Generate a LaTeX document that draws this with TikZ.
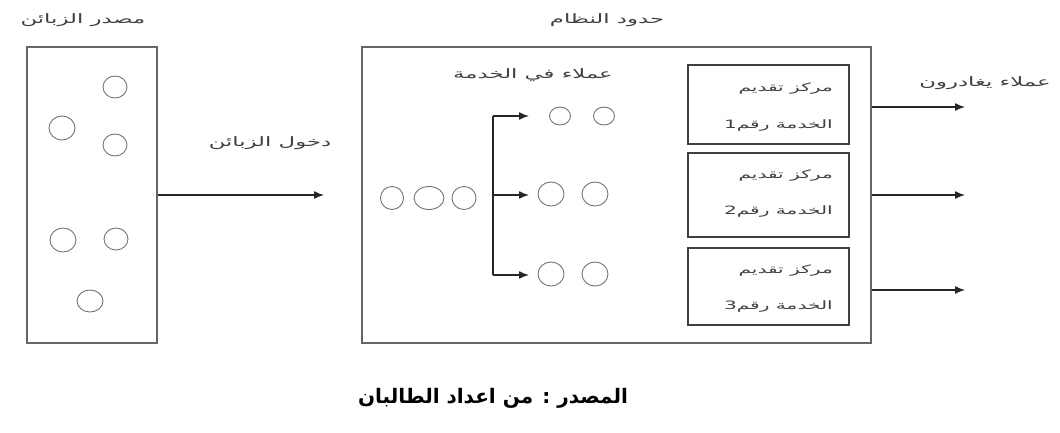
\documentclass[tikz,border=0pt]{standalone}
\usepackage{fontspec}
\TeXXeTstate=1
\newfontfamily\arabicfont[Script=Arabic,FakeStretch=1.75]{DejaVu Sans}
\newfontfamily\arabicbold[Script=Arabic]{DejaVu Sans Bold}
\usetikzlibrary{arrows.meta}
\tikzset{
  frame/.style={draw=black!60, line width=1.6pt, inner sep=0pt},
  station/.style={draw=black!75, line width=1.6pt, inner sep=0pt,
                  minimum width=161pt},
  cust/.style={draw=black!55, line width=0.9pt},
  flow/.style={draw=black!85, line width=1.4pt, -{Latex[length=10pt,width=8pt]}},
  lbl/.style={font=\fontsize{13}{15}\selectfont\arabicfont, text=black!75, inner sep=1pt},
  boxtxt/.style={font=\fontsize{11.5}{13}\selectfont\arabicfont, text=black!75,
                 inner sep=1pt, anchor=east},
}
\begin{document}
\begin{tikzpicture}[x=1pt, y=-1pt]
\useasboundingbox (0,0) rectangle (1060,432);

% customer source
\node[frame, minimum width=130pt, minimum height=296pt] (src) at (92,195) {};
\node[lbl] (srcl) at (83,20) {\beginR مصدر الزبائن\endR};
\foreach \x/\y/\rx/\ry in {115/87/12/11, 62/128/13/12, 115/145/12/11,
                           63/240/13/12, 116/239/12/11, 90/301/13/11}
  \draw[cust] (\x,\y) ellipse [x radius=\rx pt, y radius=\ry pt];

% arrivals
\coordinate (arr) at (324,195);
\draw[flow] (src.east) -- (arr);
\node[lbl] (arrl) at (270,143) {\beginR دخول الزبائن\endR};

% system boundary
\node[frame, minimum width=509pt, minimum height=296pt] (sys) at (616.5,195) {};
\node[lbl] (sysl) at (607,20) {\beginR حدود النظام\endR};

% waiting line
\draw[cust] (392,198) ellipse [x radius=11.5pt, y radius=11.5pt];
\draw[cust] (429,198) ellipse [x radius=15pt, y radius=11.5pt];
\draw[cust] (464,198) ellipse [x radius=12pt, y radius=11.5pt];

% dispatch to the servers
\coordinate (b1) at (493,116);
\coordinate (b2) at (493,195);
\coordinate (b3) at (493,275);
\coordinate (t1) at (529,116);
\coordinate (t2) at (529,195);
\coordinate (t3) at (529,275);
\draw[draw=black!85, line width=1.4pt] (b1) -- (b3);
\draw[flow] (b1) -- (t1);
\draw[flow] (b2) -- (t2);
\draw[flow] (b3) -- (t3);

% customers being served
\node[lbl] (svl) at (533,75) {\beginR عملاء في الخدمة\endR};
\draw[cust] (560,116) ellipse [x radius=10.5pt, y radius=9pt];
\draw[cust] (604,116) ellipse [x radius=10.5pt, y radius=9pt];
\draw[cust] (551,194) ellipse [x radius=13pt, y radius=12pt];
\draw[cust] (595,194) ellipse [x radius=13pt, y radius=12pt];
\draw[cust] (551,274) ellipse [x radius=13pt, y radius=12pt];
\draw[cust] (595,274) ellipse [x radius=13pt, y radius=12pt];

% service stations
\node[station, minimum height=79pt] (c1) at (768.5,104.5) {};
\node[station, minimum height=84pt] (c2) at (768.5,195) {};
\node[station, minimum height=77pt] (c3) at (768.5,286.5) {};
\node[boxtxt] (c1a) at (834,89)  {\beginR مركز تقديم\endR};
\node[boxtxt] (c1b) at (834,126) {\beginR الخدمة رقم1\endR};
\node[boxtxt] (c2a) at (834,176) {\beginR مركز تقديم\endR};
\node[boxtxt] (c2b) at (834,212) {\beginR الخدمة رقم2\endR};
\node[boxtxt] (c3a) at (834,271) {\beginR مركز تقديم\endR};
\node[boxtxt] (c3b) at (834,307) {\beginR الخدمة رقم3\endR};

% departures
\coordinate (o1) at (965,107);
\coordinate (o2) at (965,195);
\coordinate (o3) at (965,290);
\draw[flow] (sys.east |- o1) -- (o1);
\draw[flow] (sys.east |- o2) -- (o2);
\draw[flow] (sys.east |- o3) -- (o3);
\node[lbl] (outl) at (985,83) {\beginR عملاء يغادرون\endR};

% source note
\node[font=\fontsize{20}{24}\selectfont\arabicbold, inner sep=1pt] (note) at (493,398)
  {\beginR المصدر : من اعداد الطالبان\endR};
\end{tikzpicture}
\end{document}
